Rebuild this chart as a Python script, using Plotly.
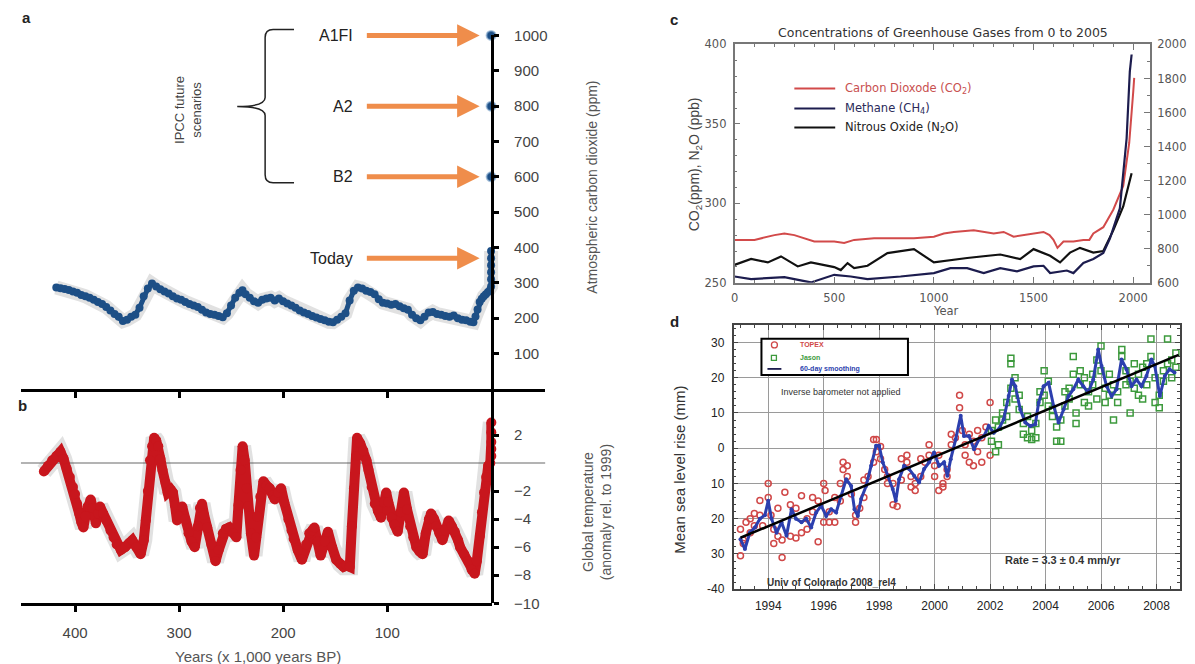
import plotly.graph_objects as go

W, H = 1195, 664
# the photographed page shows the figure vertically scaled by ~0.973 with ~9.6 px offset;
# positions below are given in picture pixels and converted back to paper fractions.
def fx(p): return p / W
def fy(p): return 1 - ((p - 9.6) / 0.973) / H

# ---------------- Panel a: Vostok CO2 (kyr BP, ppm) ----------------
co2_kyr = [418, 414, 410, 406, 402, 398, 394, 390, 386, 382, 378, 374, 370, 366, 362, 358, 354, 350,
           346, 342, 338, 334, 330, 326, 322, 318, 314, 310, 306, 302, 298, 294, 290, 286, 282, 278,
           274, 270, 266, 262, 258, 254, 250, 246, 242, 239, 236, 232, 228, 224, 220, 216, 212, 208,
           204, 200, 196, 192, 188, 184, 180, 176, 172, 168, 164, 160, 156, 152, 148, 144, 140, 136,
           132, 128, 124, 120, 116, 112, 108, 104, 100, 96, 92, 88, 84, 80, 76, 72, 68, 64, 60, 56,
           52, 48, 44, 40, 36, 32, 28, 24, 20, 17, 15, 13, 11, 9, 7, 5, 3, 1, 0, 0, 0, 0, 0, 0]
co2_ppm = [287, 285, 283, 280, 276, 272, 266, 262, 258, 252, 246, 240, 232, 222, 212, 204, 192, 196,
           204, 210, 230, 262, 284, 298, 290, 282, 276, 270, 262, 256, 252, 246, 240, 236, 232, 224,
           216, 212, 210, 206, 203, 214, 236, 258, 272, 279, 268, 258, 248, 244, 252, 256, 258, 250,
           256, 248, 242, 236, 230, 222, 216, 212, 206, 202, 198, 194, 190, 189, 196, 204, 214, 250,
           278, 287, 284, 278, 274, 268, 254, 244, 242, 238, 240, 234, 228, 224, 210, 200, 194, 204,
           216, 218, 212, 210, 206, 204, 208, 200, 196, 194, 190, 189, 205, 225, 246, 255, 262, 268,
           274, 280, 290, 310, 330, 350, 370, 390]
scen_kyr = [0, 0, 0]
scen_ppm = [600, 800, 1000]
scen_names = ["B2", "A2", "A1FI"]
today_ppm = 370

# ---------------- Panel b: temperature anomaly ----------------
temp_kyr = [430, 426, 422, 418, 414, 411, 408, 405, 402, 400, 398, 396, 394, 392, 390, 388, 385, 383,
            380, 378, 376, 373, 370, 366, 363, 360, 356, 352, 348, 345, 341, 337, 334, 332, 330, 328,
            326, 324, 322, 320, 318, 316, 313, 311, 308, 306, 304, 302, 300, 297, 294, 291, 288, 285,
            282, 280, 278, 276, 273, 269, 265, 262, 258, 255, 252, 248, 245, 243, 241, 239, 237, 235,
            234, 231, 228, 226, 225, 222, 219, 216, 213, 210, 208, 205, 202, 199, 195, 192, 190, 186,
            182, 178, 175, 172, 170, 167, 164, 160, 157, 153, 149, 145, 142, 139, 136, 134, 132, 130,
            129, 126, 123, 120, 118, 115, 112, 109, 106, 103, 101, 99, 96, 93, 90, 87, 84, 81, 78, 75,
            72, 69, 66, 63, 60, 58, 55, 53, 50, 47, 44, 41, 38, 35, 32, 30, 26, 22, 19, 16, 14, 11, 9,
            7, 5, 3, 1, 0, 0, 0, 0, 0]
temp_dT = [-0.6, -0.2, 0.2, 0.5, 0.8, 0.3, -0.4, -1.0, -1.7, -2.2, -2.9, -3.6, -4.2, -4.6, -3.8, -3.1,
           -2.6, -3.2, -4.3, -3.6, -3.1, -3.6, -4.1, -4.8, -5.3, -5.8, -6.2, -6.0, -5.7, -5.5, -6.0,
           -6.5, -5.5, -4.1, -2.0, 0.2, 1.2, 1.8, 1.6, 1.2, 0.3, -0.5, -1.4, -2.1, -1.9, -2.1, -3.0,
           -4.1, -3.8, -3.1, -4.0, -5.0, -5.6, -6.0, -4.5, -3.2, -2.9, -3.7, -4.6, -5.8, -7.0, -6.2,
           -5.0, -4.7, -4.6, -5.0, -5.3, -3.0, -0.5, 1.2, 0.2, -1.8, -3.1, -5.0, -6.6, -5.3, -3.8,
           -2.4, -1.3, -1.6, -1.8, -2.3, -2.6, -2.1, -1.8, -2.8, -4.0, -4.8, -5.4, -6.2, -6.9, -5.8,
           -5.0, -4.8, -4.6, -5.6, -6.6, -5.6, -4.9, -6.0, -6.9, -7.2, -7.4, -7.3, -7.4, -4.5, -1.8,
           0.5, 1.8, 1.4, 0.9, 0.2, -0.5, -1.7, -2.9, -3.4, -3.9, -2.8, -2.1, -2.8, -3.9, -4.4, -4.9,
           -3.5, -2.1, -3.3, -4.5, -5.3, -6.0, -6.3, -6.5, -5.0, -4.0, -3.6, -4.0, -4.5, -5.0, -5.5,
           -4.8, -4.1, -4.5, -4.9, -5.5, -6.0, -6.5, -7.0, -7.6, -7.9, -7.0, -5.2, -3.5, -2.1, -1.0,
           -0.2, 0.0, 0.5, 1.0, 1.5, 2.2, 2.9]

# ---------------- Panel c: greenhouse gases 0-2005 ----------------
co2c_year = [0, 100, 200, 250, 300, 400, 500, 550, 600, 700, 800, 900, 1000, 1050, 1100, 1200, 1300,
             1350, 1400, 1450, 1500, 1550, 1580, 1600, 1620, 1650, 1700, 1750, 1780, 1800, 1850, 1900,
             1950, 1980, 2000, 2005]
co2c_ppm = [277, 277, 280, 281, 280, 276, 276, 275, 277, 278, 278, 278, 279, 281, 282, 283, 281, 282,
            279, 280, 281, 282, 280, 277, 272, 276, 276, 277, 277, 281, 285, 296, 311, 338, 370, 379]
ch4_year = [0, 83, 250, 383, 500, 583, 667, 833, 1000, 1083, 1167, 1250, 1333, 1417, 1500, 1550, 1583,
            1667, 1700, 1750, 1800, 1850, 1883, 1933, 1967, 1983, 1992]
ch4_ppb = [637, 622, 633, 602, 647, 637, 622, 637, 657, 686, 686, 657, 686, 667, 696, 700, 657, 672,
           657, 716, 740, 775, 860, 1037, 1449, 1841, 1941]
n2o_year = [0, 83, 167, 233, 317, 383, 500, 533, 567, 600, 667, 767, 900, 1000, 1167, 1333, 1433, 1500,
            1583, 1633, 1683, 1733, 1800, 1850, 1900, 1950, 1992]
n2o_ppb = [261.3, 265, 262.8, 266.6, 260.3, 262.8, 259.9, 258, 262.4, 259.3, 260.7, 268.7, 271.2, 262.8,
           265.6, 267.8, 264.9, 271.2, 267, 262.8, 269, 272, 269, 270, 283, 298, 319]

# ---------------- Panel d: sea level ----------------
smooth_year = [1993.0, 1993.16, 1993.34, 1993.52, 1993.7, 1993.88, 1994.0, 1994.12, 1994.3, 1994.48,
               1994.66, 1994.84, 1995.0, 1995.2, 1995.37, 1995.55, 1995.73, 1995.91, 1996.09, 1996.27,
               1996.45, 1996.63, 1996.81, 1996.99, 1997.11, 1997.23, 1997.35, 1997.53, 1997.71, 1997.89,
               1998.0, 1998.13, 1998.31, 1998.49, 1998.6, 1998.72, 1998.9, 1999.08, 1999.26, 1999.44,
               1999.62, 1999.8, 1999.98, 2000.16, 2000.34, 2000.46, 2000.58, 2000.76, 2000.94, 2001.06,
               2001.24, 2001.42, 2001.6, 2001.78, 2001.95, 2002.13, 2002.31, 2002.49, 2002.67, 2002.79,
               2002.91, 2003.09, 2003.27, 2003.45, 2003.63, 2003.75, 2003.93, 2004.11, 2004.29, 2004.47,
               2004.65, 2004.83, 2005.0, 2005.18, 2005.36, 2005.54, 2005.72, 2005.9, 2006.02, 2006.2,
               2006.38, 2006.56, 2006.74, 2006.92, 2007.1, 2007.28, 2007.46, 2007.64, 2007.82, 2007.94,
               2008.12, 2008.3, 2008.47, 2008.65]
smooth_mm = [-25.8, -28.6, -23.9, -22.5, -20.0, -19.0, -14.9, -20.0, -24.0, -21.0, -24.8, -17.3, -20.0,
             -21.0, -20.0, -22.5, -18.2, -16.3, -19.2, -17.3, -18.2, -13.5, -8.8, -10.7, -17.3, -19.2,
             -14.4, -10.7, -5.0, 0.7, 0.7, -4.0, -7.8, -11.6, -14.9, -8.8, -5.0, -5.9, -7.8, -9.7, -5.9,
             -4.0, -1.2, -5.0, -4.0, -7.8, -3.1, 2.5, 9.2, 3.5, 3.5, -0.3, 2.5, 3.5, 6.3, 4.4, 5.4, 8.2,
             14.8, 19.5, 17.6, 11.0, 7.3, 6.3, 6.8, 12.9, 17.6, 18.6, 12.0, 7.3, 11.0, 14.8, 16.7, 19.5,
             17.6, 15.8, 19.5, 28.0, 23.3, 17.6, 14.8, 16.7, 25.2, 22.4, 17.6, 19.5, 17.6, 20.5, 25.2,
             23.3, 14.8, 20.5, 22.4, 21.5]
topex_year = [1993.0, 1993.0, 1993.1, 1993.1, 1993.2, 1993.35, 1993.35, 1993.5, 1993.5, 1993.7, 1993.7,
              1993.8, 1994.0, 1994.0, 1994.1, 1994.2, 1994.2, 1994.35, 1994.35, 1994.5, 1994.5, 1994.6,
              1994.8, 1994.8, 1995.0, 1995.0, 1995.2, 1995.2, 1995.4, 1995.4, 1995.6, 1995.6, 1995.8,
              1995.8, 1996.0, 1996.0, 1996.05, 1996.2, 1996.2, 1996.4, 1996.4, 1996.6, 1996.6, 1996.7,
              1996.7, 1996.85, 1996.85, 1997.0, 1997.15, 1997.15, 1997.3, 1997.45, 1997.45, 1997.6,
              1997.8, 1997.8, 1997.9, 1997.9, 1998.05, 1998.05, 1998.2, 1998.3, 1998.3, 1998.5, 1998.5,
              1998.65, 1998.8, 1998.8, 1999.0, 1999.0, 1999.15, 1999.15, 1999.3, 1999.3, 1999.5, 1999.5,
              1999.65, 1999.8, 1999.8, 2000.0, 2000.0, 2000.15, 2000.15, 2000.3, 2000.3, 2000.45, 2000.45,
              2000.6, 2000.6, 2000.75, 2000.9, 2000.9, 2001.0, 2001.1, 2001.1, 2001.25, 2001.25, 2001.4,
              2001.4, 2001.55, 2001.55, 2001.7, 2001.7, 2001.85, 2002.0, 2002.0]
topex_mm = [-23, -30.5, -27, -26, -21, -20, -24, -18.5, -22, -14.8, -19, -22, -10, -14, -19, -27, -23,
            -17, -25, -31, -26, -12.5, -16, -25, -17, -25.5, -13.5, -24, -20, -23, -14, -18, -15, -26.5,
            -10, -21, -12, -18, -21, -14, -21, -15, -10, -4, -6, -5, -8, -13, -19, -21, -17, -9, -14, -8,
            2.5, -4, 2.5, -1, 0.5, -3, -6, -8, -10, -16, -10, -16.5, -3, -9, -2, -4, -8, -11, -10, -12,
            -3, -8, -4, 1, -2, -5, -8, -2, -12, -10, -11, -8, -6, 1, 4, 3, 11.5, 15, 5, -2, 1, 4, -4, 2,
            -5, 5, -1, 3, -4, 6, 13, -2]
jason_year = [2002.05, 2002.05, 2002.2, 2002.2, 2002.3, 2002.3, 2002.45, 2002.45, 2002.6, 2002.6, 2002.75,
              2002.75, 2002.75, 2002.9, 2002.9, 2003.05, 2003.05, 2003.2, 2003.2, 2003.35, 2003.35,
              2003.5, 2003.5, 2003.65, 2003.65, 2003.8, 2003.8, 2003.95, 2003.95, 2004.1, 2004.1,
              2004.25, 2004.25, 2004.4, 2004.4, 2004.55, 2004.55, 2004.7, 2004.7, 2004.85, 2004.85,
              2005.0, 2005.0, 2005.1, 2005.1, 2005.25, 2005.25, 2005.4, 2005.4, 2005.55, 2005.55, 2005.7,
              2005.7, 2005.85, 2005.85, 2006.0, 2006.0, 2006.15, 2006.15, 2006.3, 2006.3, 2006.45,
              2006.45, 2006.6, 2006.6, 2006.75, 2006.75, 2006.9, 2006.9, 2007.05, 2007.05, 2007.2, 2007.2,
              2007.35, 2007.35, 2007.5, 2007.5, 2007.65, 2007.65, 2007.8, 2007.8, 2007.95, 2007.95,
              2008.1, 2008.1, 2008.25, 2008.25, 2008.4, 2008.4, 2008.55, 2008.55, 2008.7, 2008.7]
jason_mm = [5, 2, 8, -1, 1, 6, 8, 10, 9, 13, 25.5, 24, 17, 20, 14, 15, 11, 7, 4, 3, 9, 5, 2.5, 3, 7, 16,
            13, 22, 15, 19, 12, 11, 9, 6, 2, 2, 8, 12, 16, 17, 14, 26, 21, 10, 7, 22, 18, 20, 13, 16, 12,
            18, 21, 25, 14, 29, 22, 17, 13, 15, 21, 8, 18, 13, 16, 26, 28, 22, 18, 19, 10, 24, 17, 21, 15,
            23, 14, 24, 18, 31, 26, 20, 13, 11.5, 15, 22, 19, 31, 24, 20, 25, 27, 23]
trend_year = [1993.0, 2008.8]
trend_mm = [-25.4, 26.5]

# ---------------- styling ----------------
ARIAL = "Liberation Sans, Arial, sans-serif"
GOTH = "DejaVu Sans, sans-serif"
BLUE = "#1d4f86"
RED = "#c8161d"
ORANGE = "#ef8d4b"
GREY_T = "#444444"

fig = go.Figure()

# panel a
fig.add_trace(go.Scatter(x=co2_kyr, y=co2_ppm, xaxis="x", yaxis="y", mode="lines",
                         line=dict(color="rgba(70,70,70,0.16)", width=14), hoverinfo="skip"))
fig.add_trace(go.Scatter(x=co2_kyr, y=co2_ppm, xaxis="x", yaxis="y", mode="lines+markers",
                         line=dict(color=BLUE, width=5), marker=dict(size=8, color=BLUE), cliponaxis=False))
fig.add_trace(go.Scatter(x=scen_kyr, y=scen_ppm, xaxis="x", yaxis="y", mode="markers",
                         marker=dict(size=9, color=BLUE, line=dict(color="rgba(120,160,200,0.6)", width=2)),
                         cliponaxis=False))
# panel b
fig.add_trace(go.Scatter(x=temp_kyr, y=temp_dT, xaxis="x2", yaxis="y2", mode="lines",
                         line=dict(color="rgba(70,70,70,0.16)", width=17), hoverinfo="skip"))
fig.add_trace(go.Scatter(x=temp_kyr, y=temp_dT, xaxis="x2", yaxis="y2", mode="lines+markers",
                         line=dict(color=RED, width=10), marker=dict(size=10, color=RED), cliponaxis=False))
# panel c
fig.add_trace(go.Scatter(x=co2c_year, y=co2c_ppm, xaxis="x3", yaxis="y3", mode="lines",
                         line=dict(color="#d24a4a", width=2)))
fig.add_trace(go.Scatter(x=n2o_year, y=n2o_ppb, xaxis="x3", yaxis="y3", mode="lines",
                         line=dict(color="#111111", width=2.2)))
fig.add_trace(go.Scatter(x=ch4_year, y=ch4_ppb, xaxis="x3", yaxis="y4", mode="lines",
                         line=dict(color="#1c1c4e", width=2.2)))
# panel d
fig.add_trace(go.Scatter(x=topex_year, y=topex_mm, xaxis="x4", yaxis="y5", mode="markers",
                         marker=dict(symbol="circle-open", size=6, color="#d04848", line=dict(width=1.5))))
fig.add_trace(go.Scatter(x=jason_year, y=jason_mm, xaxis="x4", yaxis="y5", mode="markers",
                         marker=dict(symbol="square-open", size=6, color="#3d9a3d", line=dict(width=1.5))))
fig.add_trace(go.Scatter(x=smooth_year, y=smooth_mm, xaxis="x4", yaxis="y5", mode="lines+markers",
                         line=dict(color="#2c3fae", width=3), marker=dict(size=4, color="#2c3fae")))
fig.add_trace(go.Scatter(x=trend_year, y=trend_mm, xaxis="x4", yaxis="y5", mode="lines",
                         line=dict(color="#000000", width=2.5)))

tickfont_a = dict(family=ARIAL, size=15, color=GREY_T)
tickfont_c = dict(family=GOTH, size=11.5, color="#555")

fig.update_layout(
    width=W, height=H, margin=dict(l=0, r=0, t=0, b=0), showlegend=False,
    paper_bgcolor="white", plot_bgcolor="rgba(0,0,0,0)",
    # ---- panel a
    xaxis=dict(domain=[fx(17), fx(543)], range=[452, -52], anchor="y", showline=True, linecolor="black",
               linewidth=2.5, ticks="outside", tickvals=[100, 200, 300, 400], ticklen=6, tickwidth=2.5,
               tickcolor="black", showticklabels=False, showgrid=False, zeroline=False),
    yaxis=dict(domain=[fy(389), fy(36)], range=[0, 1000], anchor="free", position=fx(490), side="right",
               showline=True, linecolor="black", linewidth=2.5, ticks="outside", ticklen=5, tickwidth=2.5,
               tickcolor="black", tickvals=list(range(100, 1001, 100)), tickfont=tickfont_a,
               ticklabelstandoff=12, showgrid=False, zeroline=False),
    yaxis6=dict(overlaying="y", range=[0, 1000], anchor="free", position=fx(490), side="right",
                showline=False, ticks="inside", ticklen=5, tickwidth=2.5, tickcolor="black",
                tickvals=list(range(100, 1001, 100)), showticklabels=False, showgrid=False, zeroline=False),
    # ---- panel b
    xaxis2=dict(domain=[fx(17), fx(490)], range=[452, -1], anchor="y2", showline=True, linecolor="black",
                linewidth=2.5, ticks="outside", tickvals=[100, 200, 300, 400], ticklen=6, tickwidth=2.5,
                tickcolor="black", tickfont=tickfont_a, ticklabelstandoff=8, showgrid=False, zeroline=False),
    yaxis2=dict(domain=[fy(603), fy(389)], range=[-10, 5.29], anchor="free", position=fx(490), side="right",
                showline=True, linecolor="black", linewidth=2.5, ticks="outside", ticklen=5, tickwidth=2.5,
                tickcolor="black", tickvals=[2, -2, -4, -6, -8, -10],
                ticktext=["2", "\u22122", "\u22124", "\u22126", "\u22128", "\u221210"],
                tickfont=tickfont_a, ticklabelstandoff=12, showgrid=False, zeroline=False),
    yaxis7=dict(overlaying="y2", range=[-10, 5.29], anchor="free", position=fx(490), side="right",
                showline=False, ticks="inside", ticklen=5, tickwidth=2.5, tickcolor="black",
                tickvals=[2, -2, -4, -6, -8, -10], showticklabels=False, showgrid=False, zeroline=False),
    # ---- panel c
    xaxis3=dict(domain=[fx(733), fx(1150)], range=[0, 2085], anchor="y3", showline=True, linecolor="#777",
                linewidth=1.5, mirror="ticks", ticks="inside", ticklen=6, tickcolor="#777",
                tickvals=[0, 500, 1000, 1500, 2000], tickfont=tickfont_c,
                ticklabelstandoff=4, minor=dict(dtick=100, ticks="inside", ticklen=3, tickcolor="#777"),
                showgrid=False, zeroline=False),
    yaxis3=dict(domain=[fy(283), fy(45)], range=[250, 400], anchor="x3", showline=True, linecolor="#777",
                linewidth=1.5, ticks="inside", ticklen=6, tickcolor="#777", tickvals=[250, 300, 350, 400],
                tickfont=tickfont_c, ticklabelstandoff=4,
                minor=dict(dtick=10, ticks="inside", ticklen=3, tickcolor="#777"),
                showgrid=False, zeroline=False),
    yaxis4=dict(overlaying="y3", range=[600, 2000], anchor="x3", side="right", showline=True,
                linecolor="#777", linewidth=1.5, ticks="inside", ticklen=6, tickcolor="#777",
                tickvals=list(range(600, 2001, 200)), tickfont=tickfont_c,
                ticklabelstandoff=3, minor=dict(dtick=100, ticks="inside", ticklen=3, tickcolor="#777"),
                showgrid=False, zeroline=False),
    # ---- panel d
    xaxis4=dict(domain=[fx(732), fx(1180)], range=[1992.75, 2008.85], anchor="y5", showline=True,
                linecolor="#444", linewidth=1.5, mirror="ticks", ticks="inside", ticklen=5, tickcolor="#444",
                tickvals=list(range(1994, 2009, 2)), tickfont=dict(family=ARIAL, size=12, color="#222"),
                ticklabelstandoff=5, minor=dict(dtick=0.5, ticks="inside", ticklen=3, tickcolor="#444"),
                showgrid=True, gridcolor="#9a9a9a", gridwidth=1.3, zeroline=False),
    yaxis5=dict(domain=[fy(589), fy(325)], range=[-40, 35], anchor="x4", showline=True, linecolor="#444",
                linewidth=1.5, mirror="ticks", ticks="inside", ticklen=5, tickcolor="#444",
                tickvals=[-40, -30, -20, -10, 0, 10, 20, 30],
                ticktext=["-40", "30", "20", "10", "0", "10", "20", "30"],
                tickfont=dict(family=ARIAL, size=12, color="#222"), ticklabelstandoff=5,
                minor=dict(dtick=2, ticks="inside", ticklen=3, tickcolor="#444"),
                showgrid=True, gridcolor="#9a9a9a", gridwidth=1.3, zeroline=False),
)

def ptxt(px, py, s, size=14, color=GREY_T, xanchor="center", angle=0, family=ARIAL):
    return dict(x=fx(px), y=fy(py), xref="paper", yref="paper", text=s, showarrow=False,
                font=dict(family=family, size=size, color=color), xanchor=xanchor, yanchor="middle",
                textangle=angle)

ann = []
# panel letters
ann += [ptxt(16, 18, "<b>a</b>", 15, "#222", "left"), ptxt(12, 406, "<b>b</b>", 15, "#222", "left"),
        ptxt(666, 20, "<b>c</b>", 15, "#222", "left"), ptxt(666, 322, "<b>d</b>", 15, "#222", "left")]
# panel a labels with arrows (text sits at the arrow tail)
arrow_vals = scen_ppm + [today_ppm]
arrow_names = scen_names + ["Today"]
for v, name in zip(arrow_vals, arrow_names):
    ann.append(dict(x=11, y=v, xref="x", yref="y", ax=131, ay=v, axref="x", ayref="y", text=name,
                    xanchor="right", yanchor="middle", showarrow=True, arrowhead=2, arrowsize=0.9,
                    arrowwidth=5, arrowcolor=ORANGE, startstandoff=12,
                    font=dict(family=ARIAL, size=16, color="#222")))
ann.append(ptxt(184, 110, "IPCC future<br>scenarios", 13, "#444", angle=-90))
ann.append(ptxt(590, 188, "Atmospheric carbon dioxide (ppm)", 14, "#555", angle=-90))
ann.append(ptxt(595, 512, "Global temperature<br>(anomaly rel. to 1999)", 14, "#555", angle=-90))
ann.append(ptxt(255, 656, "Years (x 1,000 years BP)", 15, "#555"))
# panel c text
ann.append(ptxt(942, 33, "Concentrations of Greenhouse Gases from 0 to 2005", 12.5, "#333", family=GOTH))
ann.append(ptxt(945, 311, "Year", 11.5, "#555", family=GOTH))
ann.append(ptxt(693, 165, "CO<sub>2</sub>(ppm), N<sub>2</sub>O (ppb)", 14, "#444", angle=-90))
leg_c = [("Carbon Dioxode (CO<sub>2</sub>)", "#d24a4a", "#c85050", 89),
         ("Methane (CH<sub>4</sub>)", "#1c1c4e", "#2a2a5a", 109),
         ("Nitrous Oxide (N<sub>2</sub>O)", "#111111", "#222222", 128)]
for label, lc, tc, py in leg_c:
    ann.append(ptxt(842, py, label, 11.5, tc, "left", family=GOTH))
# panel d text
ann.append(ptxt(677, 470, "Mean sea level rise (mm)", 15, "#333", angle=-90))
ann.append(ptxt(797, 345, "<b>TOPEX</b>", 7, "#d04848", "left"))
ann.append(ptxt(797, 358, "<b>Jason</b>", 7, "#3d9a3d", "left"))
ann.append(ptxt(797, 369, "<b>60-day smoothing</b>", 7, "#2c3fae", "left"))
ann.append(ptxt(840, 392, "Inverse barometer not applied", 9, "#333"))
ann.append(ptxt(1063, 560, "<b>Rate = 3.3 \u00b1 0.4 mm/yr</b>", 11, "#333"))
ann.append(ptxt(830, 582, "<b>Univ of Colorado 2008_rel4</b>", 10, "#333"))
fig.update_layout(annotations=ann)

def ppath(points):
    cmds = []
    for c, pts in points:
        cmds.append(c + " " + " ".join(f"{fx(x):.5f},{fy(y):.5f}" for x, y in pts))
    return " ".join(cmds)

shapes = []
# brace
brace = ppath([("M", [(291, 30)]), ("L", [(270, 30)]), ("Q", [(262, 30), (262, 38)]),
               ("L", [(262, 98)]), ("Q", [(262, 107), (234, 107)]), ("Q", [(262, 107), (262, 116)]),
               ("L", [(262, 175)]), ("Q", [(262, 183), (270, 183)]), ("L", [(291, 183)])])
shapes.append(dict(type="path", path=brace, xref="paper", yref="paper", line=dict(color="#222", width=1.5)))
# zero line panel b
shapes.append(dict(type="line", xref="paper", yref="y2", x0=fx(17), x1=fx(543), y0=0, y1=0,
                   line=dict(color="#9a9a9a", width=1.5), layer="below"))
# legend c lines
for label, lc, tc, py in leg_c:
    shapes.append(dict(type="line", xref="paper", yref="paper", x0=fx(793), x1=fx(834), y0=fy(py), y1=fy(py),
                       line=dict(color=lc, width=2)))
# legend d box
shapes.append(dict(type="rect", xref="paper", yref="paper", x0=fx(760), x1=fx(907), y0=fy(375), y1=fy(339),
                   line=dict(color="black", width=2), fillcolor="white", layer="above"))
shapes.append(dict(type="circle", xref="paper", yref="paper", x0=fx(770), x1=fx(776), y0=fy(348), y1=fy(342),
                   line=dict(color="#d04848", width=1.3)))
shapes.append(dict(type="rect", xref="paper", yref="paper", x0=fx(770), x1=fx(775), y0=fy(360.5), y1=fy(355.5),
                   line=dict(color="#3d9a3d", width=1.3)))
shapes.append(dict(type="line", xref="paper", yref="paper", x0=fx(766), x1=fx(780), y0=fy(369), y1=fy(369),
                   line=dict(color="#1c1c4e", width=1.8)))
fig.update_layout(shapes=shapes)

fig.write_html("out.html", config={"displayModeBar": False},
               post_script="document.body.style.margin='0px';document.body.style.overflow='hidden';")
